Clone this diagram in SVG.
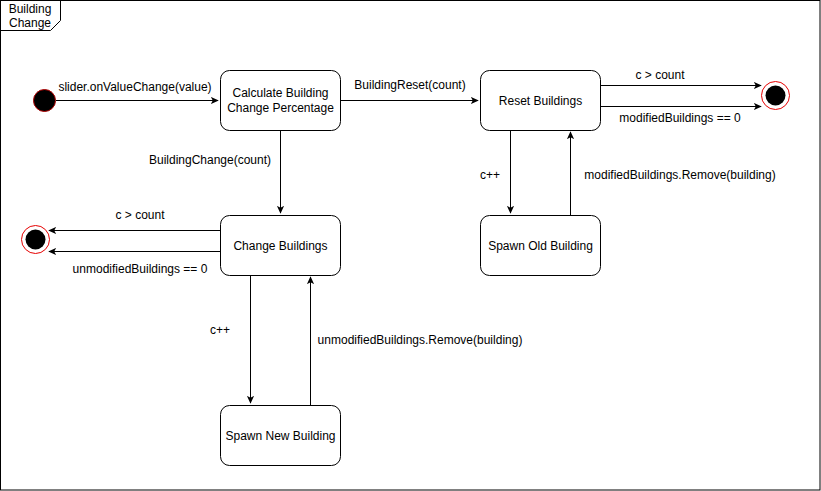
<svg xmlns="http://www.w3.org/2000/svg" width="821" height="491" viewBox="0 0 821 491">
<style>
text{font-family:"Liberation Sans",Arial,Helvetica,sans-serif;font-size:12px;fill:#000}
.st{fill:#fff;stroke:#000;stroke-width:1}
.ln{fill:none;stroke:#000;stroke-width:1}
.fin-o{fill:#fff;stroke:#e60000;stroke-width:1}
.fin-i{fill:#000;stroke:none}
</style>
<defs>
<marker id="ah" viewBox="0 0 10 10" refX="9" refY="5" markerWidth="8" markerHeight="8" markerUnits="userSpaceOnUse" orient="auto">
<path d="M0,0.5 L10,5 L0,9.5 L2.5,5 Z" fill="#000"/>
</marker>
</defs>
<rect width="821" height="491" fill="#fff"/>
<g id="frame">
<rect x="0.5" y="0.5" width="819.5" height="489.5" fill="none" stroke="#000"/>
<path d="M0.5,30.5 H50.5 L60.5,20.5 V0.5" fill="none" stroke="#000"/>
<text x="30" y="13" text-anchor="middle">Building</text>
<text x="30" y="27" text-anchor="middle">Change</text>
</g>
<g id="connectors">
<path class="ln" d="M56,100.5 H218" marker-end="url(#ah)"/>
<text x="135" y="91" text-anchor="middle">slider.onValueChange(value)</text>
<path class="ln" d="M340.5,100.5 H478" marker-end="url(#ah)"/>
<text x="410" y="89" text-anchor="middle">BuildingReset(count)</text>
<path class="ln" d="M600.5,85.5 H761" marker-end="url(#ah)"/>
<text x="660" y="79" text-anchor="middle">c &gt; count</text>
<path class="ln" d="M600.5,106.5 H761" marker-end="url(#ah)"/>
<text x="680" y="122" text-anchor="middle">modifiedBuildings == 0</text>
<path class="ln" d="M280.5,130.5 V213" marker-end="url(#ah)"/>
<text x="210" y="164" text-anchor="middle">BuildingChange(count)</text>
<path class="ln" d="M220.5,230.5 H49" marker-end="url(#ah)"/>
<text x="140" y="219" text-anchor="middle">c &gt; count</text>
<path class="ln" d="M220.5,251.5 H49" marker-end="url(#ah)"/>
<text x="140" y="273" text-anchor="middle">unmodifiedBuildings == 0</text>
<path class="ln" d="M510.5,130.5 V213" marker-end="url(#ah)"/>
<text x="490" y="179" text-anchor="middle">c++</text>
<path class="ln" d="M570.5,215.5 V132" marker-end="url(#ah)"/>
<text x="680" y="179" text-anchor="middle">modifiedBuildings.Remove(building)</text>
<path class="ln" d="M250.5,275.5 V403" marker-end="url(#ah)"/>
<text x="220" y="334" text-anchor="middle">c++</text>
<path class="ln" d="M310.5,405.5 V277" marker-end="url(#ah)"/>
<text x="420" y="344" text-anchor="middle">unmodifiedBuildings.Remove(building)</text>
</g>
<g id="initial">
<circle cx="44.5" cy="100.5" r="11" fill="#000" stroke="#b20000" stroke-width="1"/>
</g>
<g id="calculate">
<rect class="st" x="220.5" y="70.5" width="120" height="60" rx="9"/>
<text x="280.5" y="97" text-anchor="middle">Calculate Building</text>
<text x="280.5" y="112" text-anchor="middle">Change Percentage</text>
</g>
<g id="reset">
<rect class="st" x="480.5" y="70.5" width="120" height="60" rx="9"/>
<text x="540.5" y="104.5" text-anchor="middle">Reset Buildings</text>
</g>
<g id="final-right">
<circle class="fin-o" cx="775.5" cy="95.5" r="14"/>
<circle class="fin-i" cx="775.5" cy="95.5" r="10"/>
</g>
<g id="change">
<rect class="st" x="220.5" y="215.5" width="120" height="60" rx="9"/>
<text x="280.5" y="249.5" text-anchor="middle">Change Buildings</text>
</g>
<g id="final-left">
<circle class="fin-o" cx="35.5" cy="239.5" r="14"/>
<circle class="fin-i" cx="35.5" cy="239.5" r="10"/>
</g>
<g id="spawn-old">
<rect class="st" x="480.5" y="215.5" width="120" height="60" rx="9"/>
<text x="540.5" y="249.5" text-anchor="middle">Spawn Old Building</text>
</g>
<g id="spawn-new">
<rect class="st" x="220.5" y="405.5" width="120" height="60" rx="9"/>
<text x="280.5" y="439.5" text-anchor="middle">Spawn New Building</text>
</g>
</svg>
